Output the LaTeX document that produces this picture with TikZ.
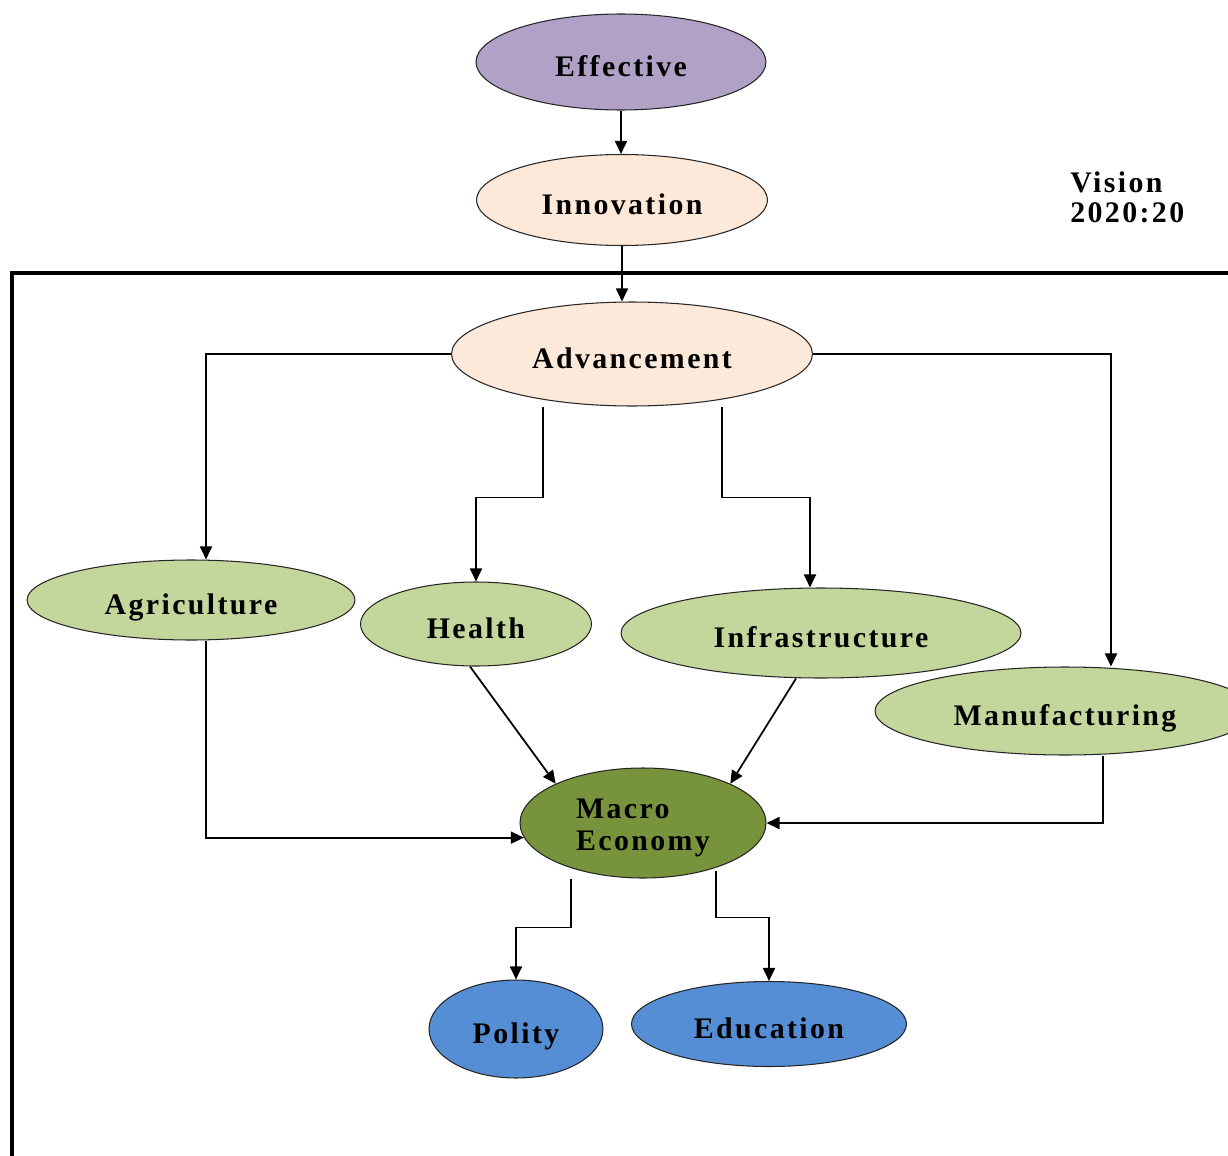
\documentclass[tikz,border=0pt]{standalone}
\usepackage{fontspec}
\setmainfont[LetterSpace=8]{Liberation Serif}
\usetikzlibrary{shapes.geometric}
\usetikzlibrary{arrows.meta}
\usetikzlibrary{calc}
\definecolor{effpurple}{HTML}{B2A1C7}
\definecolor{peach}{HTML}{FDE9D9}
\definecolor{leafgreen}{HTML}{C3D69B}
\definecolor{olivegreen}{HTML}{77933C}
\definecolor{skyblue}{HTML}{558ED5}
\begin{document}
\begin{tikzpicture}[x=0.02cm,y=-0.02cm,
    bubble/.style={ellipse,draw=black!85,line width=0.6pt,inner sep=0pt,
        font=\fontsize{17}{18}\selectfont\bfseries},
    oneline/.style={text height=20pt,text depth=3pt},
    flow/.style={-{Triangle[length=0.26cm,width=0.24cm]},line width=1pt}]
        \useasboundingbox (0,0) rectangle (1228,1156);
        \draw[line width=2.2pt] (12,1160) |- (1232,273);
        \node[bubble,oneline,fill=effpurple,minimum width=5.8cm,minimum height=1.92cm] (effective) at (621,62) {Effective};
        \node[bubble,oneline,fill=peach,minimum width=5.82cm,minimum height=1.82cm] (innovation) at (622,200) {Innovation};
        \node[bubble,oneline,fill=peach,minimum width=7.22cm,minimum height=2.08cm] (advancement) at (632,354) {Advancement};
        \node[bubble,oneline,fill=leafgreen,minimum width=6.56cm,minimum height=1.6cm] (agriculture) at (191,600) {Agriculture};
        \node[bubble,oneline,fill=leafgreen,minimum width=4.62cm,minimum height=1.68cm] (health) at (476,624) {Health};
        \node[bubble,oneline,fill=leafgreen,minimum width=8cm,minimum height=1.8cm] (infrastructure) at (821,633) {Infrastructure};
        \node[bubble,oneline,fill=leafgreen,minimum width=7.6cm,minimum height=1.76cm] (manufacturing) at (1065,711) {Manufacturing};
        \node[bubble,fill=olivegreen,minimum width=4.92cm,minimum height=2.2cm,align=left,text height=35pt] (macro) at (643,823) {Macro\\Economy};
        \node[bubble,oneline,fill=skyblue,minimum width=3.48cm,minimum height=1.96cm] (polity) at (516,1029) {Polity};
        \node[bubble,oneline,fill=skyblue,minimum width=5.5cm,minimum height=1.7cm] (education) at (769,1024) {Education};
        \node[anchor=north west,align=left,inner sep=0pt,font=\fontsize{17}{17.5}\selectfont\bfseries] (vision) at (1070,171) {Vision\\2020:20};

        \draw[flow] (effective.south) -- (effective.south |- innovation.north);
        \draw[flow] (innovation.south) -- (innovation.south |- advancement.north);
        \draw[flow] (advancement.west) -| ([xshift=0.3cm]agriculture.north);
        \draw[flow] ([xshift=-1.78cm]advancement.south) -- ++(0,-1.82cm) -| (health.north);
        \draw[flow] ([xshift=1.8cm]advancement.south) -- ++(0,-1.82cm) -| ([xshift=-0.22cm]infrastructure.north);
        \draw[flow] (advancement.east) -| ([xshift=0.92cm]manufacturing.north);
        \draw[flow] ([xshift=0.3cm]agriculture.south) |- (macro.187);
        \draw[flow] ([xshift=-0.12cm]health.south) -- (macro.north west);
        \draw[flow] ([xshift=-0.5cm]infrastructure.south) -- (macro.north east);
        \draw[flow] ([xshift=0.76cm]manufacturing.south) |- (macro.east);
        \draw[flow] ([xshift=-1.44cm]macro.south) -- ++(0,-0.98cm) -| (polity.north);
        \draw[flow] ([xshift=1.46cm,yshift=0.16cm]macro.south) -- ++(0,-0.94cm) -| (education.north);
\end{tikzpicture}
\end{document}
